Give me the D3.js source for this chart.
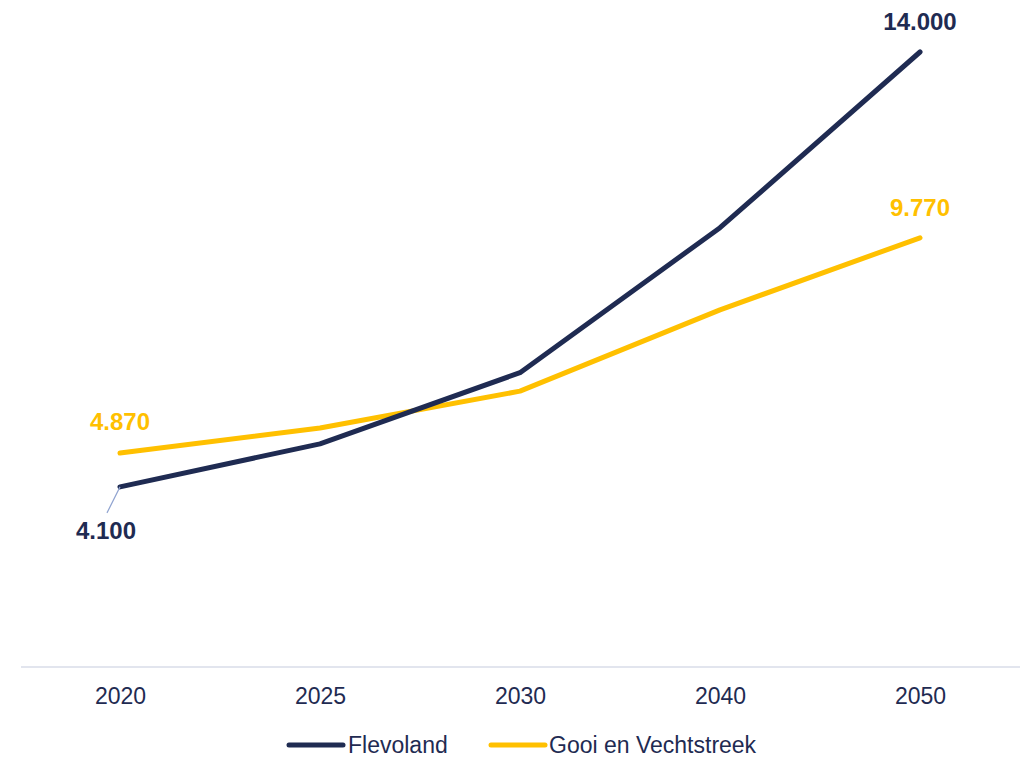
<!DOCTYPE html>
<html><head><meta charset="utf-8">
<script src="https://cdn.jsdelivr.net/npm/d3@7"></script>
<style>html,body{margin:0;padding:0;background:#fff;}svg{display:block;}</style>
</head><body>
<svg id="chart" width="1030" height="758"></svg>
<script>
const categories = ["2020", "2025", "2030", "2040", "2050"];
const flevoland = [4100, 5080, 6700, 10000, 14000];
const gooi = [4870, 5440, 6280, 8130, 9770];
const seriesNames = ["Flevoland", "Gooi en Vechtstreek"];
const seriesColors = ["#1f2b52", "#ffc000"];

const FONT = "'Liberation Sans', Arial, sans-serif";
const svg = d3.select("#chart");
const x = d3.scalePoint().domain(categories).range([120, 920]);
const y = d3.scaleLinear().domain([0, 14000]).range([667, 52]);
const fmt = v => d3.format(",")(v).replace(/,/g, ".");

// axis
const axis = svg.append("g").attr("transform", `translate(0,${y(0)})`)
  .call(d3.axisBottom(x).tickSize(0).tickPadding(0));
axis.select(".domain").remove();
axis.append("line").attr("x1", 21).attr("x2", 1020).attr("y1", 0).attr("y2", 0)
  .attr("stroke", "#d9dce8").attr("stroke-width", 1.5);
axis.selectAll(".tick text").attr("y", 29).attr("dy", null)
  .attr("dominant-baseline", "central")
  .attr("font-family", FONT).attr("font-size", 23).attr("fill", "#1f2b52");

const line = d3.line().x((d, i) => x(categories[i])).y(d => y(d));
[gooi, flevoland].forEach((s) => {
  const k = s === flevoland ? 0 : 1;
  svg.append("path").datum(s).attr("d", line).attr("fill", "none")
    .attr("stroke", seriesColors[k]).attr("stroke-width", 5)
    .attr("stroke-linecap", "round").attr("stroke-linejoin", "round");
});

// labels
const lab = (t, cx, cy, col) => svg.append("text").text(t).attr("x", cx).attr("y", cy)
  .attr("text-anchor", "middle").attr("dominant-baseline", "central")
  .attr("font-family", FONT).attr("font-weight", "bold")
  .attr("font-size", 24).attr("fill", col);

// leader for first Flevoland label
svg.append("line").attr("x1", x(categories[0])).attr("y1", y(flevoland[0]))
  .attr("x2", x(categories[0]) - 13).attr("y2", y(flevoland[0]) + 26)
  .attr("stroke", "#8fa3d0").attr("stroke-width", 1.2);
lab(fmt(flevoland[0]), x(categories[0]) - 14, y(flevoland[0]) + 44, seriesColors[0]);
lab(fmt(flevoland[4]), x(categories[4]), y(flevoland[4]) - 31, seriesColors[0]);
lab(fmt(gooi[0]), x(categories[0]), y(gooi[0]) - 32, seriesColors[1]);
lab(fmt(gooi[4]), x(categories[4]), y(gooi[4]) - 30, seriesColors[1]);

// legend
const lg = svg.append("g").attr("transform", "translate(0,745)");
const legendPos = [[289, 348], [491, 549]];
seriesNames.forEach((n, k) => {
  lg.append("line").attr("x1", legendPos[k][0]).attr("x2", legendPos[k][0] + 54)
    .attr("y1", 0).attr("y2", 0).attr("stroke", seriesColors[k]).attr("stroke-width", 5)
    .attr("stroke-linecap", "round");
  lg.append("text").text(n).attr("x", legendPos[k][1]).attr("y", 0)
    .attr("dominant-baseline", "central")
    .attr("font-family", FONT).attr("font-size", 23)
    .attr("fill", "#1f2b52");
});
</script>
</body></html>
